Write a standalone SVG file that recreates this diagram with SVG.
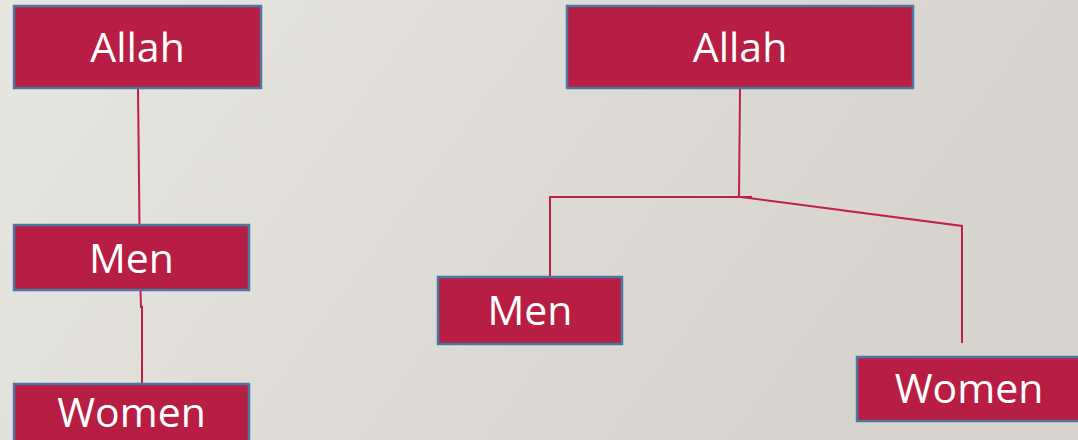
<svg xmlns="http://www.w3.org/2000/svg" width="1078" height="440" viewBox="0 0 1078 440">
<defs>
<linearGradient id="bg" x1="0" y1="0" x2="1" y2="0.3">
<stop offset="0" stop-color="#e8e6e1"/>
<stop offset="1" stop-color="#d6d3ce"/>
</linearGradient>
<style>
.box{fill:#b81e43;stroke:#4a78a3;stroke-width:2.5}
.lbl{font-family:"Open Sans","Liberation Sans",sans-serif;font-size:41px;fill:#ffffff;text-anchor:middle}
.con{fill:none;stroke:#c21f46;stroke-width:2}
</style>
</defs>
<rect width="1078" height="440" fill="url(#bg)"/>
<g id="connectors">
<path class="con" d="M138 88 L139.5 226"/>
<path class="con" d="M140.5 290 L141 308"/>
<path class="con" d="M142 306 L142 384"/>
<path class="con" d="M740 88 L739 197"/>
<path class="con" d="M550 277 L550 197 L752 197"/>
<path class="con" d="M741 197 L962 226 L962 343"/>
</g>
<g id="allah-left">
<rect class="box" x="14" y="6" width="247" height="82"/>
<text class="lbl" x="137.5" y="62">Allah</text>
</g>
<g id="men-left">
<rect class="box" x="14" y="225" width="235" height="65"/>
<text class="lbl" x="131.5" y="273">Men</text>
</g>
<g id="women-left">
<rect class="box" x="14" y="384" width="235" height="66"/>
<text class="lbl" x="131.5" y="427">Women</text>
</g>
<g id="allah-right">
<rect class="box" x="567" y="6" width="346" height="82"/>
<text class="lbl" x="740" y="62">Allah</text>
</g>
<g id="men-right">
<rect class="box" x="438" y="277" width="184" height="67"/>
<text class="lbl" x="530" y="325">Men</text>
</g>
<g id="women-right">
<rect class="box" x="857" y="357" width="225" height="64"/>
<text class="lbl" x="969" y="403">Women</text>
</g>
</svg>
